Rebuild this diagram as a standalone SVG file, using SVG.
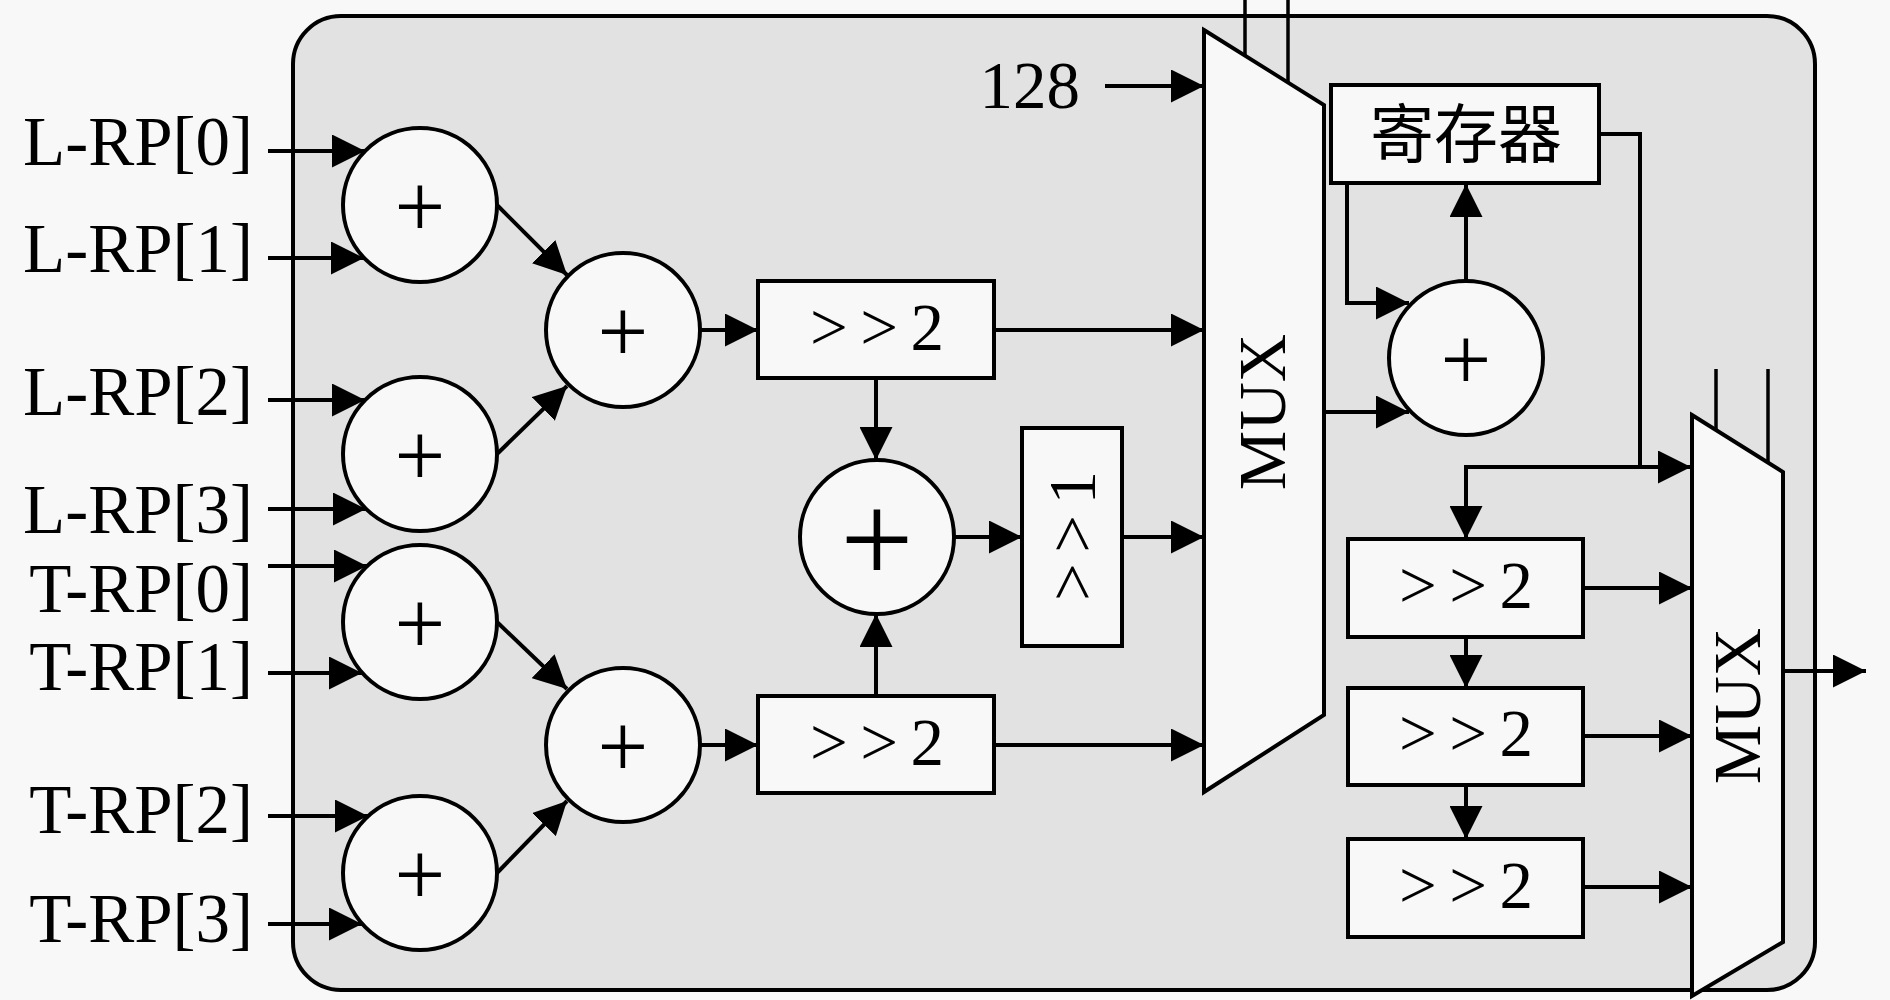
<svg xmlns="http://www.w3.org/2000/svg" width="1890" height="1000" viewBox="0 0 1890 1000">
<style>
.bg{fill:#f8f8f8}
.panel{fill:#e2e2e2;stroke:#000;stroke-width:4}
.n{fill:#f8f8f8;stroke:#000;stroke-width:4}
.c{fill:none;stroke:#000;stroke-width:4}
.a{marker-end:url(#ah)}
.sel{fill:none;stroke:#000;stroke-width:3.5}
.t{font-family:"Liberation Serif","DejaVu Serif",serif;font-size:67px;fill:#000}
.lbl{font-family:"Liberation Serif","DejaVu Serif",serif;font-size:69px;fill:#000;text-anchor:end}
.m{text-anchor:middle}
.p{font-family:"Liberation Serif","DejaVu Serif",serif;font-size:90px;fill:#000;text-anchor:middle}
.pb{font-family:"Liberation Serif","DejaVu Serif",serif;font-size:130px;fill:#000;text-anchor:middle}
.cjk{font-family:"Noto Sans CJK SC","Noto Sans CJK JP",sans-serif;font-size:64px;fill:#000;text-anchor:middle}
</style>
<defs>
<marker id="ah" markerUnits="userSpaceOnUse" markerWidth="33" markerHeight="33" refX="33" refY="16.5" orient="auto" viewBox="0 0 33 33">
<path d="M0,0 L33,16.5 L0,33 z" fill="#000"/>
</marker>
</defs>
<rect class="bg" x="0" y="0" width="1890" height="1000"/>
<rect id="panel" class="panel" x="293" y="16" width="1522" height="974" rx="48" ry="48"/>

<g id="connectors">
<line class="c a" x1="268" y1="151" x2="365" y2="151"/>
<line class="c a" x1="268" y1="258" x2="364" y2="258"/>
<line class="c a" x1="268" y1="400" x2="365" y2="400"/>
<line class="c a" x1="268" y1="509" x2="366" y2="509"/>
<line class="c a" x1="268" y1="566" x2="367" y2="566"/>
<line class="c a" x1="268" y1="673" x2="362" y2="673"/>
<line class="c a" x1="268" y1="816" x2="368" y2="816"/>
<line class="c a" x1="268" y1="924" x2="362" y2="924"/>
<line class="c a" x1="497" y1="205" x2="567" y2="275"/>
<line class="c a" x1="497" y1="454" x2="567" y2="386"/>
<line class="c a" x1="497" y1="622" x2="567" y2="689"/>
<line class="c a" x1="497" y1="873" x2="567" y2="801"/>
<line class="c a" x1="700" y1="330" x2="758" y2="330"/>
<line class="c a" x1="700" y1="745" x2="758" y2="745"/>
<line class="c a" x1="876" y1="378" x2="876" y2="460"/>
<line class="c a" x1="876" y1="696" x2="876" y2="614"/>
<line class="c a" x1="954" y1="537" x2="1022" y2="537"/>
<line class="c a" x1="1122" y1="537" x2="1204" y2="537"/>
<line class="c a" x1="994" y1="330" x2="1204" y2="330"/>
<line class="c a" x1="994" y1="745" x2="1204" y2="745"/>
<line class="c a" x1="1105" y1="86" x2="1204" y2="86"/>
<line class="sel" x1="1245" y1="0" x2="1245" y2="55"/>
<line class="sel" x1="1288" y1="0" x2="1288" y2="82"/>
<line class="c a" x1="1466" y1="281" x2="1466" y2="184"/>
<path class="c a" d="M1347,184 V303 H1409"/>
<line class="c a" x1="1324" y1="412" x2="1409" y2="412"/>
<path class="c a" d="M1599,134 H1640 V467 H1691"/>
<path class="c a" d="M1640,467 H1466 V539"/>
<line class="c a" x1="1466" y1="637" x2="1466" y2="688"/>
<line class="c a" x1="1466" y1="785" x2="1466" y2="839"/>
<line class="c a" x1="1583" y1="588" x2="1692" y2="588"/>
<line class="c a" x1="1583" y1="736" x2="1692" y2="736"/>
<line class="c a" x1="1583" y1="887" x2="1692" y2="887"/>
<line class="c a" x1="1783" y1="671" x2="1866" y2="671"/>
<line class="sel" x1="1716" y1="369" x2="1716" y2="430"/>
<line class="sel" x1="1768" y1="369" x2="1768" y2="463"/>
</g>

<g id="labels">
<text class="lbl" x="253" y="165">L-RP[0]</text>
<text class="lbl" x="253" y="272">L-RP[1]</text>
<text class="lbl" x="253" y="415">L-RP[2]</text>
<text class="lbl" x="253" y="533">L-RP[3]</text>
<text class="lbl" x="253" y="612">T-RP[0]</text>
<text class="lbl" x="253" y="690">T-RP[1]</text>
<text class="lbl" x="253" y="833">T-RP[2]</text>
<text class="lbl" x="253" y="942">T-RP[3]</text>
<text class="t" x="1080" y="108" text-anchor="end">128</text>
</g>

<g id="add1"><circle class="n" cx="420" cy="205" r="77"/><text class="p" x="420" y="237">+</text></g>
<g id="add2"><circle class="n" cx="420" cy="454" r="77"/><text class="p" x="420" y="486">+</text></g>
<g id="add3"><circle class="n" cx="420" cy="622" r="77"/><text class="p" x="420" y="654">+</text></g>
<g id="add4"><circle class="n" cx="420" cy="873" r="77"/><text class="p" x="420" y="905">+</text></g>
<g id="add5"><circle class="n" cx="623" cy="330" r="77"/><text class="p" x="623" y="362">+</text></g>
<g id="add6"><circle class="n" cx="623" cy="745" r="77"/><text class="p" x="623" y="777">+</text></g>
<g id="shiftA"><rect class="n" x="758" y="281" width="236" height="97"/><text class="t m" x="877" y="350" textLength="134" lengthAdjust="spacing">&gt;&gt;2</text></g>
<g id="shiftB"><rect class="n" x="758" y="696" width="236" height="97"/><text class="t m" x="877" y="765" textLength="134" lengthAdjust="spacing">&gt;&gt;2</text></g>
<g id="add7"><circle class="n" cx="877" cy="537" r="77"/><text class="pb" x="877" y="583">+</text></g>
<g id="shift1"><rect class="n" x="1022" y="428" width="100" height="218"/><text class="t m" transform="translate(1095,536) rotate(-90)" textLength="130" lengthAdjust="spacing">&gt;&gt;1</text></g>
<g id="mux1"><polygon class="n" points="1204,30 1324,105 1324,715 1204,792"/><text class="t m" transform="translate(1285,412) rotate(-90)">MUX</text></g>
<g id="reg"><rect class="n" x="1331" y="85" width="268" height="98"/><text class="cjk" x="1466" y="157">寄存器</text></g>
<g id="add8"><circle class="n" cx="1466" cy="358" r="77"/><text class="p" x="1466" y="390">+</text></g>
<g id="shiftC"><rect class="n" x="1348" y="539" width="235" height="98"/><text class="t m" x="1466" y="608" textLength="134" lengthAdjust="spacing">&gt;&gt;2</text></g>
<g id="shiftD"><rect class="n" x="1348" y="688" width="235" height="97"/><text class="t m" x="1466" y="756" textLength="134" lengthAdjust="spacing">&gt;&gt;2</text></g>
<g id="shiftE"><rect class="n" x="1348" y="839" width="235" height="98"/><text class="t m" x="1466" y="908" textLength="134" lengthAdjust="spacing">&gt;&gt;2</text></g>
<g id="mux2"><polygon class="n" points="1692,415 1783,472 1783,942 1692,996"/><text class="t m" transform="translate(1760,706) rotate(-90)">MUX</text></g>
</svg>
